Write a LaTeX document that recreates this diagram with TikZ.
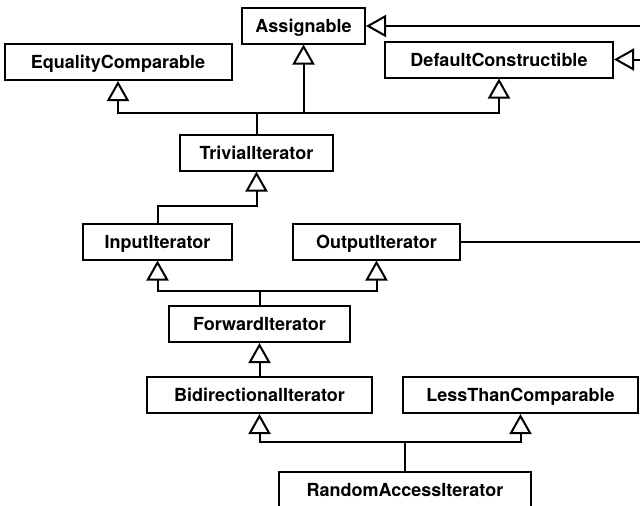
\documentclass[tikz,border=0pt]{standalone}
\usepackage{fontspec}
\setmainfont{TeX Gyre Heros}
\usetikzlibrary{arrows.meta}
\begin{document}
\begin{tikzpicture}[x=1pt,y=-1pt,
  cls/.style={draw, line width=2pt, inner sep=0pt, minimum height=36pt,
    text height=13pt, text depth=0pt,
    font=\fontsize{18}{21}\selectfont\bfseries},
  inh/.style={line width=2pt, -{Triangle[length=20pt,width=22pt,fill=white]}},
  plain/.style={line width=2pt}]
\useasboundingbox[fill=white] (0,0) rectangle (640,506);
\node[cls, minimum width=123pt] (assign) at (303.5,25.5) {Assignable};
\node[cls, minimum width=227pt] (ec) at (118,62) {EqualityComparable};
\node[cls, minimum width=228pt] (dc) at (499,59.5) {DefaultConstructible};
\node[cls, minimum width=153pt] (triv) at (256.5,152.5) {TrivialIterator};
\node[cls, minimum width=149pt] (in) at (157.5,241.5) {InputIterator};
\node[cls, minimum width=167pt] (out) at (376.5,241.5) {OutputIterator};
\node[cls, minimum width=181pt] (fwd) at (259.5,324) {ForwardIterator};
\node[cls, minimum width=225pt] (bidi) at (259.5,395) {BidirectionalIterator};
\node[cls, minimum width=235pt] (ltc) at (520.5,395) {LessThanComparable};
\node[cls, minimum width=252pt] (rai) at (405,490) {RandomAccessIterator};
\coordinate (j1) at (256.5,113);
\coordinate (j2) at (157.5,206);
\coordinate (j3) at (259.5,291);
\coordinate (j4) at (405,442);
\coordinate (ra) at (645,26);
\coordinate (rdc) at (645,59.5);
\coordinate (rout) at (645,241.5);
% TrivialIterator
\draw[inh] (triv.north) -- (j1) -| (ec.south);
\draw[inh] (triv.north) -- (j1) -| (assign.south);
\draw[inh] (triv.north) -- (j1) -| (dc.south);
% InputIterator
\draw[inh] (in.north) -- (j2) -| (triv.south);
% ForwardIterator
\draw[inh] (fwd.north) -- (j3) -| (in.south);
\draw[inh] (fwd.north) -- (j3) -| (out.south);
% BidirectionalIterator
\draw[inh] (bidi.north) -- (fwd.south);
% RandomAccessIterator
\draw[inh] (rai.north) -- (j4) -| (bidi.south);
\draw[inh] (rai.north) -- (j4) -| (ltc.south);
% lines from the right edge
\draw[inh] (ra) -- (assign.east |- ra);
\draw[inh] (rdc) -- (dc.east);
\draw[plain] (out.east) -- (rout);
\end{tikzpicture}
\end{document}
